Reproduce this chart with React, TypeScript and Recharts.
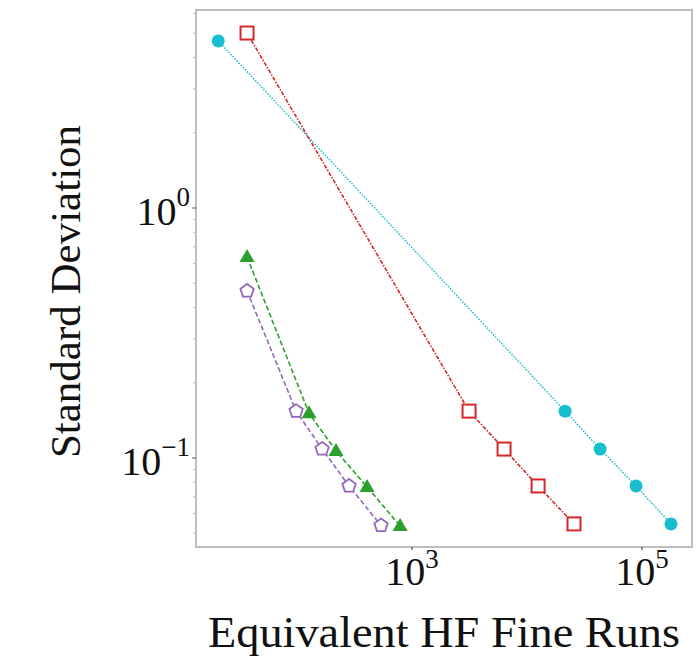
import { ScatterChart, Scatter, XAxis, YAxis, ReferenceArea } from 'recharts'

// equivalent HF fine runs (x) and standard deviation (y)
const circleRuns = [20.6, 21400, 43200, 88700, 178600]
const circleStd = [4.66, 0.154, 0.1086, 0.0773, 0.0545]

const squareRuns = [36.7, 3130, 6310, 12470, 25600]
const squareStd = [5.01, 0.154, 0.1086, 0.0773, 0.0545]

const triangleRuns = [36.7, 127, 218, 406, 787]
const triangleStd = [0.637, 0.151, 0.1067, 0.0766, 0.0535]

const pentagonRuns = [36.7, 98, 165, 283, 537]
const pentagonStd = [0.466, 0.154, 0.1086, 0.0773, 0.0537]

const xTicks = [1000, 100000]
const yMajorTicks = [0.1, 1]
const yMinorTicks = [0.05, 0.06, 0.07, 0.08, 0.09, 0.2, 0.3, 0.4, 0.5, 0.6, 0.7, 0.8, 0.9, 2, 3, 4, 5, 6]

const xDomain: [number, number] = [13.2, 272000]
const yDomain: [number, number] = [0.04406, 6.194]

const FONT = '"Liberation Serif", "DejaVu Serif", serif'

const toPoints = (xs: number[], ys: number[]) => xs.map((x, i) => ({ x, y: ys[i] }))

const circleData = toPoints(circleRuns, circleStd)
const squareData = toPoints(squareRuns, squareStd)
const triangleData = toPoints(triangleRuns, triangleStd)
const pentagonData = toPoints(pentagonRuns, pentagonStd)

const CYAN = '#17becf'
const RED = '#d62728'
const GREEN = '#2ca02c'
const PURPLE = '#9467bd'

const exponent = (v: number) => {
  const e = Math.round(Math.log10(v))
  return e < 0 ? `\u2212${-e}` : `${e}`
}

const XTick = ({ x, y, payload }: any) => (
  <g>
    <line x1={x} x2={x} y1={y} y2={y + 3} stroke="#333" strokeWidth={1} />
    <text x={x} y={y + 38} textAnchor="middle" fontFamily={FONT} fontSize={40} fill="#111">
      <tspan>10</tspan>
      <tspan dy={-17} fontSize={27}>{exponent(payload.value)}</tspan>
    </text>
  </g>
)

const YTick = ({ x, y, payload }: any) => {
  const major = yMajorTicks.some((t) => Math.abs(t - payload.value) < 1e-9)
  if (!major) {
    return <line x1={x} x2={x - 3} y1={y} y2={y} stroke="#bbb" strokeWidth={1} />
  }
  return (
    <g>
      <line x1={x} x2={x - 4} y1={y} y2={y} stroke="#555" strokeWidth={1} />
      <text x={x - 6} y={y + 17} textAnchor="end" fontFamily={FONT} fontSize={40} fill="#111">
        <tspan>10</tspan>
        <tspan dy={-19} fontSize={27}>{exponent(payload.value)}</tspan>
      </text>
    </g>
  )
}

const Circle = ({ cx, cy }: any) => <circle cx={cx} cy={cy} r={6.5} fill={CYAN} />

const Square = ({ cx, cy }: any) => (
  <rect x={cx - 6.5} y={cy - 6.5} width={13} height={13} fill="#fff" stroke={RED} strokeWidth={2} />
)

const Triangle = ({ cx, cy }: any) => (
  <polygon
    points={`${cx},${cy - 8} ${cx - 7.5},${cy + 5} ${cx + 7.5},${cy + 5}`}
    fill={GREEN}
  />
)

const Pentagon = ({ cx, cy }: any) => {
  const r = 7
  const pts = [0, 1, 2, 3, 4]
    .map((i) => {
      const a = -Math.PI / 2 + (i * 2 * Math.PI) / 5
      return `${cx + r * Math.cos(a)},${cy + r * Math.sin(a)}`
    })
    .join(' ')
  return <polygon points={pts} fill="#fff" stroke={PURPLE} strokeWidth={1.8} />
}

const allYTicks = [...yMinorTicks, ...yMajorTicks].sort((a, b) => a - b)

export default function App() {
  return (
    <div style={{ position: 'absolute', left: 0, top: 0, background: '#fff' }}>
      <ScatterChart width={699} height={661} margin={{ top: 10, right: 7, bottom: 0, left: 0 }}>
        <XAxis
          type="number"
          dataKey="x"
          scale="log"
          domain={xDomain}
          allowDataOverflow
          ticks={xTicks}
          tick={<XTick />}
          tickLine={false}
          tickSize={0}
          tickMargin={0}
          axisLine={false}
          height={114}
          label={({ viewBox }: any) => (
            <text
              x={viewBox.x + viewBox.width / 2}
              y={viewBox.y + 100}
              textAnchor="middle"
              fontFamily={FONT}
              fontSize={44}
              textLength={472}
              lengthAdjust="spacingAndGlyphs"
              fill="#111"
            >
              Equivalent HF Fine Runs
            </text>
          )}
        />
        <YAxis
          type="number"
          dataKey="y"
          scale="log"
          domain={yDomain}
          allowDataOverflow
          ticks={allYTicks}
          interval={0}
          tick={<YTick />}
          tickLine={false}
          tickSize={0}
          tickMargin={0}
          axisLine={false}
          width={196}
          label={({ viewBox }: any) => {
            const cx = 80
            const cy = viewBox.y + viewBox.height / 2 + 13
            return (
              <text
                x={cx}
                y={cy}
                transform={`rotate(-90 ${cx} ${cy})`}
                textAnchor="middle"
                fontFamily={FONT}
                fontSize={43}
                fill="#111"
              >
                Standard Deviation
              </text>
            )
          }}
        />
        <ReferenceArea
          x1={xDomain[0]}
          x2={xDomain[1]}
          y1={yDomain[0]}
          y2={yDomain[1]}
          fill="none"
          fillOpacity={0}
          stroke="#bdbdbd"
          strokeWidth={2}
          ifOverflow="visible"
        />
        <Scatter
          data={circleData}
          line={{ stroke: CYAN, strokeWidth: 1.5, strokeDasharray: '1.5 1.5' }}
          lineType="joint"
          shape={<Circle />}
          isAnimationActive={false}
        />
        <Scatter
          data={squareData}
          line={{ stroke: RED, strokeWidth: 1.6, strokeDasharray: '4 1.5 1.5 1.5' }}
          lineType="joint"
          shape={<Square />}
          isAnimationActive={false}
        />
        <Scatter
          data={triangleData}
          line={{ stroke: GREEN, strokeWidth: 1.6, strokeDasharray: '5 2.5' }}
          lineType="joint"
          shape={<Triangle />}
          isAnimationActive={false}
        />
        <Scatter
          data={pentagonData}
          line={{ stroke: PURPLE, strokeWidth: 1.6, strokeDasharray: '5 2.5' }}
          lineType="joint"
          shape={<Pentagon />}
          isAnimationActive={false}
        />
      </ScatterChart>
    </div>
  )
}
